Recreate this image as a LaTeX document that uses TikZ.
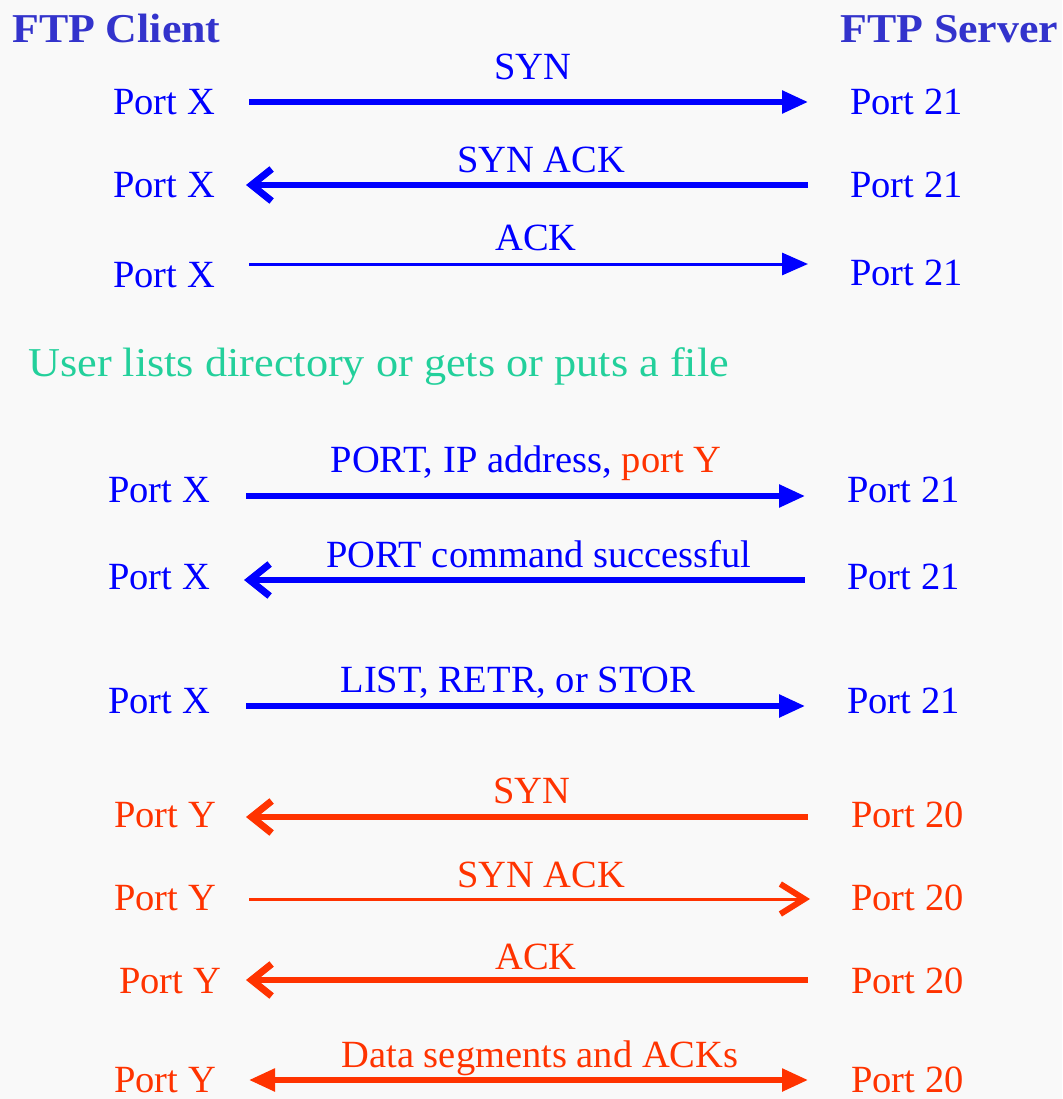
\documentclass[tikz,border=0pt]{standalone}
\usepackage{fontspec}
\setmainfont{Liberation Serif}
\newfontfamily\titlefont[FakeStretch=1.07]{Liberation Serif}
\newfontfamily\notefont[FakeStretch=1.08]{Liberation Serif}
\usetikzlibrary{arrows.meta}

\definecolor{bg}{RGB}{249,249,249}
\definecolor{ctrl}{RGB}{0,0,255}
\definecolor{data}{RGB}{255,51,0}
\definecolor{note}{RGB}{35,208,155}
\definecolor{head}{RGB}{51,51,204}

\tikzset{
  fulltri/.tip={Triangle[length=26pt,width=22pt]},
  heavybarb/.tip={Straight Barb[length=20pt,width=32pt,line width=7pt]},
  openbarb/.tip={Straight Barb[length=24pt,width=30pt,line width=6pt]},
  txt/.style={inner sep=0pt, font=\fontsize{38.5}{44}\selectfont},
  port/.style={txt, anchor=base west},
  msg/.style={txt, anchor=base},
  title/.style={inner sep=0pt, anchor=base west, text=head,
    font=\titlefont\bfseries\fontsize{41}{46}\selectfont},
  heavy/.style={line width=5.5pt},
  light/.style={line width=3pt},
}

\begin{document}
\begin{tikzpicture}[x=1pt,y=-1pt]
  \fill[bg] (0,0) rectangle (1062,1099);
  \useasboundingbox (0,0) rectangle (1062,1099);

  % column headings
  \node[title] (client) at (12,43) {FTP Client};
  \node[title] (server) at (840,43) {FTP Server};

  % control connection set-up
  \node[port, text=ctrl] (c1) at (113,115) {Port X};
  \node[port, text=ctrl] (s1) at (850,115) {Port 21};
  \node[msg, text=ctrl] (m1) at (533,80) {SYN};
  \draw[ctrl, heavy, -fulltri, shorten <=34pt, shorten >=42pt]
    (c1.east |- 0,102) -- (s1.west |- 0,102);

  \node[port, text=ctrl] (c2) at (113,198) {Port X};
  \node[port, text=ctrl] (s2) at (850,198) {Port 21};
  \node[msg, text=ctrl] (m2) at (541,173) {SYN ACK};
  \draw[ctrl, heavy, heavybarb-, shorten <=31pt, shorten >=42pt]
    (c2.east |- 0,185) -- (s2.west |- 0,185);

  \node[port, text=ctrl] (c3) at (113,287) {Port X};
  \node[port, text=ctrl] (s3) at (850,285) {Port 21};
  \node[msg, text=ctrl] (m3) at (536,251) {ACK};
  \draw[ctrl, light, -fulltri, shorten <=34pt, shorten >=42pt]
    (c3.east |- 0,264) -- (s3.west |- 0,264);

  % user action
  \node[inner sep=0pt, anchor=base west, text=note,
        font=\notefont\fontsize{41}{46}\selectfont] (user) at (28,376)
    {User lists directory or gets or puts a file};

  % commands on the control connection
  \node[port, text=ctrl] (c4) at (108,502) {Port X};
  \node[port, text=ctrl] (s4) at (847,502) {Port 21};
  \node[msg, text=ctrl] (m4) at (526,472)
    {PORT, IP address, \textcolor{data}{port Y}};
  \draw[ctrl, heavy, -fulltri, shorten <=36pt, shorten >=42pt]
    (c4.east |- 0,496) -- (s4.west |- 0,496);

  \node[port, text=ctrl] (c5) at (108,589) {Port X};
  \node[port, text=ctrl] (s5) at (847,589) {Port 21};
  \node[msg, text=ctrl] (m5) at (539,567) {PORT command successful};
  \draw[ctrl, heavy, heavybarb-, shorten <=34pt, shorten >=42pt]
    (c5.east |- 0,580) -- (s5.west |- 0,580);

  \node[port, text=ctrl] (c6) at (108,713) {Port X};
  \node[port, text=ctrl] (s6) at (847,713) {Port 21};
  \node[msg, text=ctrl] (m6) at (518,692) {LIST, RETR, or STOR};
  \draw[ctrl, heavy, -fulltri, shorten <=36pt, shorten >=42pt]
    (c6.east |- 0,706) -- (s6.west |- 0,706);

  % data connection opened by the server
  \node[port, text=data] (c7) at (114,827) {Port Y};
  \node[port, text=data] (s7) at (851,827) {Port 20};
  \node[msg, text=data] (m7) at (532,803) {SYN};
  \draw[data, heavy, heavybarb-, shorten <=30pt, shorten >=43pt]
    (c7.east |- 0,817) -- (s7.west |- 0,817);

  \node[port, text=data] (c8) at (114,910) {Port Y};
  \node[port, text=data] (s8) at (851,910) {Port 20};
  \node[msg, text=data] (m8) at (541,887) {SYN ACK};
  \draw[data, light, -openbarb, shorten <=33pt, shorten >=41pt]
    (c8.east |- 0,899) -- (s8.west |- 0,899);

  \node[port, text=data] (c9) at (119,993) {Port Y};
  \node[port, text=data] (s9) at (851,993) {Port 20};
  \node[msg, text=data] (m9) at (536,969) {ACK};
  \draw[data, heavy, heavybarb-, shorten <=25pt, shorten >=43pt]
    (c9.east |- 0,980) -- (s9.west |- 0,980);

  \node[port, text=data] (c10) at (114,1092) {Port Y};
  \node[port, text=data] (s10) at (851,1092) {Port 20};
  \node[msg, text=data] (m10) at (540,1067) {Data segments and ACKs};
  \draw[data, heavy, fulltri-fulltri, shorten <=33pt, shorten >=43pt]
    (c10.east |- 0,1080) -- (s10.west |- 0,1080);
\end{tikzpicture}
\end{document}
